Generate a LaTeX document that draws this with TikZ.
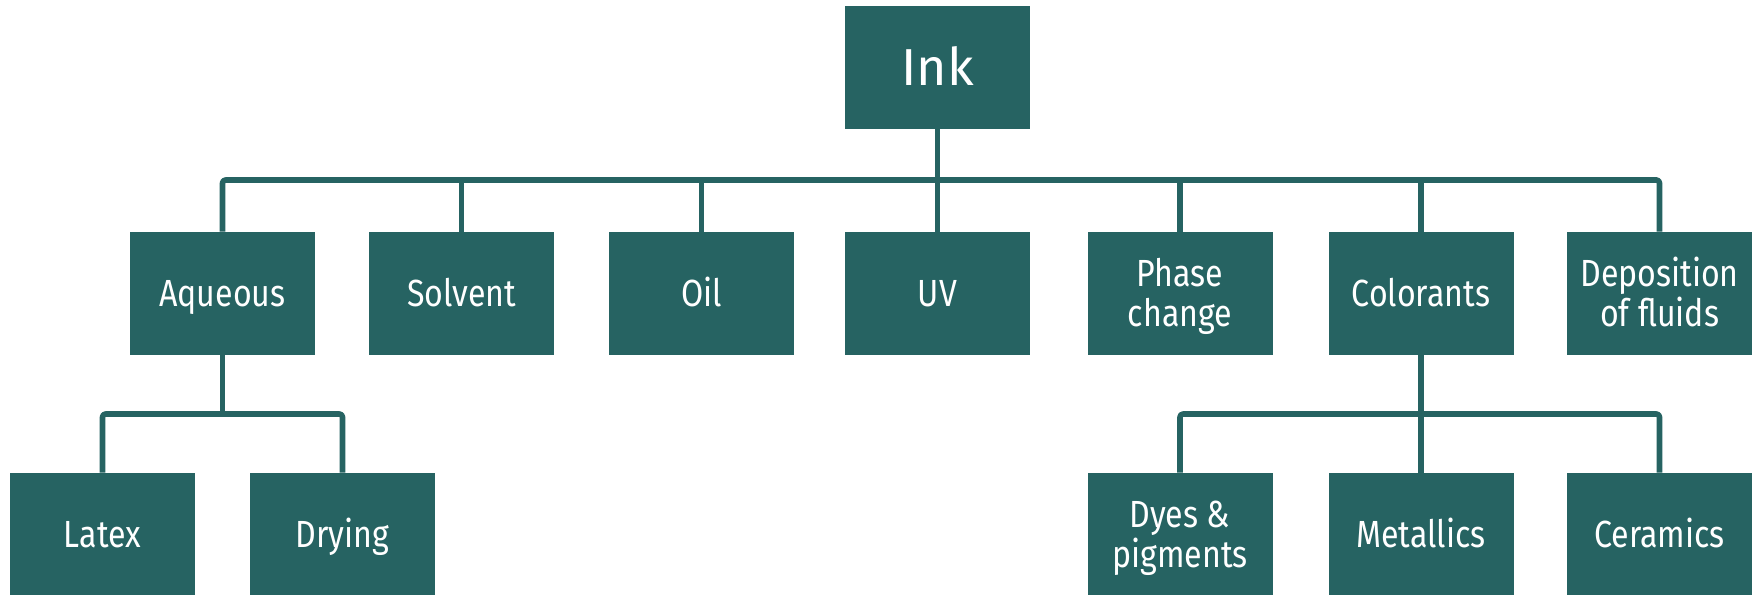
\documentclass[tikz,border=0pt]{standalone}
\usepackage{fontspec}
\newfontfamily\boxfont[FakeStretch=0.85]{Fira Sans}
\newfontfamily\topfont{Fira Sans}
\definecolor{teal}{RGB}{38,99,98}
\begin{document}
\begin{tikzpicture}[x=0.5pt,y=-0.5pt,
  box/.style={fill=teal,minimum width=92.5pt,minimum height=61.5pt,inner sep=0pt,
    text=white,font=\boxfont\fontsize{18.9}{20}\selectfont,align=center,
    text height=13pt,text depth=0pt},
  twoline/.style={text height=33pt,text depth=0pt},
  topbox/.style={box,font=\topfont\fontsize{26}{28}\selectfont,text height=18pt},
  conn/.style={draw=teal,line width=2.8pt,rounded corners=1.5pt,line join=round}]
\useasboundingbox (0,0) rectangle (1755,594);
\node[topbox] (ink) at (937.5,67.5) {Ink};
\node[box] (aq) at (222.5,293.5) {Aqueous};
\node[box] (solv) at (461.5,293.5) {Solvent};
\node[box] (oil) at (701.5,293.5) {Oil};
\node[box] (uv) at (937.5,293.5) {UV};
\node[box,twoline] (phase) at (1180,293.5) {Phase\\change};
\node[box] (col) at (1421,293.5) {Colorants};
\node[box,twoline] (dep) at (1659.5,293.5) {Deposition\\of fluids};
\node[box] (latex) at (102.5,534.5) {Latex};
\node[box] (dry) at (342.5,534.5) {Drying};
\node[box,twoline] (dyes) at (1180,534.5) {Dyes \&\\pigments};
\node[box] (met) at (1421,534.5) {Metallics};
\node[box] (cer) at (1659.5,534.5) {Ceramics};
\coordinate (bus) at (937.5,180);
\coordinate (subA) at (222.5,414);
\coordinate (subC) at (1421,414);
% main bus
\draw[conn] (ink.south) -- (ink.south |- bus);
\draw[conn] (aq.north) -- (aq.north |- bus) -- (dep.north |- bus) -- (dep.north);
\draw[conn] (solv.north) -- (solv.north |- bus);
\draw[conn] (oil.north) -- (oil.north |- bus);
\draw[conn] (uv.north) -- (uv.north |- bus);
\draw[conn] (phase.north) -- (phase.north |- bus);
\draw[conn] (col.north) -- (col.north |- bus);
% aqueous children
\draw[conn] (aq.south) -- (subA);
\draw[conn] (latex.north) -- (latex.north |- subA) -- (dry.north |- subA) -- (dry.north);
% colorants children
\draw[conn] (col.south) -- (subC);
\draw[conn] (dyes.north) -- (dyes.north |- subC) -- (cer.north |- subC) -- (cer.north);
\draw[conn] (met.north) -- (met.north |- subC);
\end{tikzpicture}
\end{document}
